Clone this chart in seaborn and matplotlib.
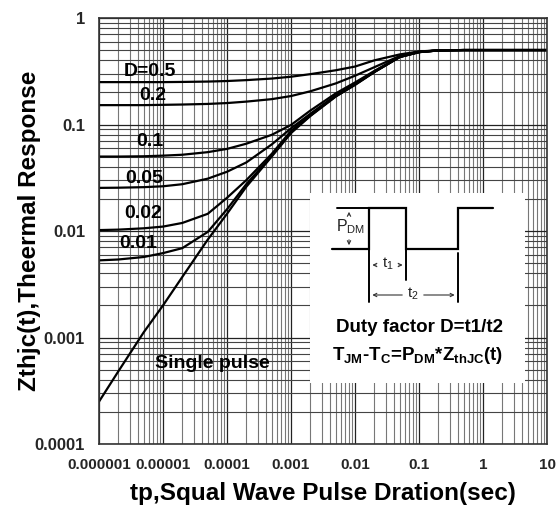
import numpy as np
import pandas as pd
import matplotlib
matplotlib.use("Agg")
import matplotlib.pyplot as plt
import matplotlib.ticker as mticker
import seaborn as sns

# ---------------- data ----------------
t = [1e-6, 2e-6, 5e-6, 1e-5, 2e-5, 5e-5, 1e-4, 2e-4, 5e-4, 1e-3,
     2e-3, 5e-3, 1e-2, 2e-2, 5e-2, 0.1, 0.2, 0.5, 1, 10]
z_d05 = [0.25, 0.25, 0.25, 0.25, 0.251, 0.253, 0.256, 0.261, 0.27, 0.281,
         0.297, 0.323, 0.35, 0.40, 0.455, 0.485, 0.497, 0.5, 0.5, 0.5]
z_d02 = [0.152, 0.152, 0.152, 0.153, 0.154, 0.156, 0.159, 0.164, 0.173, 0.185,
         0.205, 0.243, 0.287, 0.345, 0.44, 0.482, 0.497, 0.5, 0.5, 0.5]
z_d01 = [0.050, 0.050, 0.0503, 0.051, 0.052, 0.055, 0.059, 0.066, 0.08, 0.099,
         0.135, 0.196, 0.248, 0.318, 0.434, 0.48, 0.496, 0.5, 0.5, 0.5]
z_d005 = [0.0254, 0.0255, 0.0258, 0.0263, 0.0275, 0.031, 0.036, 0.044, 0.065, 0.092,
          0.126, 0.188, 0.242, 0.314, 0.432, 0.479, 0.496, 0.5, 0.5, 0.5]
z_d002 = [0.0102, 0.0103, 0.0106, 0.011, 0.0119, 0.0145, 0.0205, 0.030, 0.053, 0.087,
          0.122, 0.185, 0.238, 0.312, 0.431, 0.478, 0.496, 0.5, 0.5, 0.5]
z_d001 = [0.0053, 0.0054, 0.0057, 0.0062, 0.0069, 0.0098, 0.016, 0.0275, 0.051, 0.085,
          0.121, 0.184, 0.237, 0.311, 0.43, 0.478, 0.496, 0.5, 0.5, 0.5]
z_single = [0.00025, 0.00048, 0.00112, 0.002, 0.0037, 0.0083, 0.0145, 0.026, 0.05, 0.083,
            0.12, 0.183, 0.235, 0.31, 0.43, 0.478, 0.496, 0.5, 0.5, 0.5]

series_names = ["D=0.5", "0.2", "0.1", "0.05", "0.02", "0.01", "Single pulse"]
series_values = [z_d05, z_d02, z_d01, z_d005, z_d002, z_d001, z_single]

x_ticks = [1e-6, 1e-5, 1e-4, 1e-3, 1e-2, 1e-1, 1, 10]
x_tick_labels = ["0.000001", "0.00001", "0.0001", "0.001", "0.01", "0.1", "1", "10"]
y_ticks = [1e-4, 1e-3, 1e-2, 1e-1, 1]
y_tick_labels = ["0.0001", "0.001", "0.01", "0.1", "1"]

df = pd.concat([pd.DataFrame({"t": t, "Z": v, "series": n})
                for n, v in zip(series_names, series_values)], ignore_index=True)

# ---------------- style ----------------
sns.set_theme(style="white")
plt.rcParams["font.family"] = ["Liberation Sans", "DejaVu Sans"]
plt.rcParams["mathtext.fontset"] = "custom"
plt.rcParams["mathtext.rm"] = "Liberation Sans"
plt.rcParams["mathtext.it"] = "Liberation Sans"
plt.rcParams["mathtext.bf"] = "Liberation Sans:bold"

fig = plt.figure(figsize=(5.6, 5.11), dpi=100)
ax = fig.add_axes([99/560, 1-444/511, 448/560, 426/511])

ax.set_xscale("log")
ax.set_yscale("log")
ax.set_xlim(1e-6, 10)
ax.set_ylim(1e-4, 1)

sns.lineplot(data=df, x="t", y="Z", units="series", estimator=None, sort=False,
             color="black", lw=1.6, ax=ax, legend=False)

ax.xaxis.set_major_locator(mticker.FixedLocator(x_ticks))
ax.xaxis.set_major_formatter(mticker.FixedFormatter(x_tick_labels))
ax.yaxis.set_major_locator(mticker.FixedLocator(y_ticks))
ax.yaxis.set_major_formatter(mticker.FixedFormatter(y_tick_labels))
ax.xaxis.set_minor_locator(mticker.LogLocator(base=10, subs=np.arange(2, 10), numticks=20))
ax.yaxis.set_minor_locator(mticker.LogLocator(base=10, subs=np.arange(2, 10), numticks=20))
ax.xaxis.set_minor_formatter(mticker.NullFormatter())
ax.yaxis.set_minor_formatter(mticker.NullFormatter())

ax.tick_params(axis="both", which="both", length=0)
ax.tick_params(axis="x", which="major", labelsize=11, pad=10)
ax.tick_params(axis="y", which="major", labelsize=12, pad=10)
for lab in ax.get_xticklabels() + ax.get_yticklabels():
    lab.set_fontweight("bold")

ax.grid(True, which="major", color="#222222", lw=0.9)
ax.grid(True, which="minor", axis="y", color="#444444", lw=0.8)
ax.grid(True, which="minor", axis="x", color="#777777", lw=0.8)
ax.set_axisbelow(True)
for s in ax.spines.values():
    s.set_color("#333333")
    s.set_linewidth(1.2)

ax.set_xlabel("tp,Squal Wave Pulse Dration(sec)", fontsize=17.5, fontweight="bold", color="black")
ax.set_ylabel("Zthjc(t),Theermal Response", fontsize=17.5, fontweight="bold", color="black")
ax.xaxis.set_label_coords(0.5, -0.09)
ax.yaxis.set_label_coords(-0.13, 0.5)

# curve labels (axes fraction positions)
def pf(px, py):
    return ((px - 99) / 448, (444 - py) / 426)

label_pos = [(150, 71), (153, 95), (150, 141), (144, 178), (143, 213), (138, 243), (212, 364)]
for name, (px, py) in zip(series_names, label_pos):
    fx, fy = pf(px, py)
    ax.text(fx, fy, name, transform=ax.transAxes, ha="center", va="center",
            fontsize=14, fontweight="bold", color="black")

# ---------------- inset (pulse diagram) ----------------
bx0, by1 = pf(310, 193)
bx1, by0 = pf(525, 383)
ins = ax.inset_axes([bx0, by0, bx1 - bx0, by1 - by0])
ins.set_xlim(310, 525)
ins.set_ylim(383, 193)
ins.set_facecolor("white")
ins.set_xticks([])
ins.set_yticks([])
for s in ins.spines.values():
    s.set_visible(False)

lo, hi = 249, 208
ins.plot([332, 369, 369, 406, 406, 458, 458, 493], [lo, lo, hi, hi, lo, lo, hi, hi],
         color="black", lw=1.6, solid_joinstyle="miter")
ins.plot([337, 369], [hi, hi], color="black", lw=1.4)
# P_DM dimension arrow
arr = dict(arrowstyle="->", color="#333333", lw=0.8, mutation_scale=6)
ins.annotate("", xy=(349, hi + 1), xytext=(349, 218), arrowprops=arr)
ins.annotate("", xy=(349, lo - 1), xytext=(349, 237), arrowprops=arr)
ins.text(351, 227, "P$_{\\mathrm{DM}}$", ha="center", va="center", fontsize=11.5, color="#222222")
# extension lines
ins.plot([369, 369], [lo, 302], color="black", lw=1.4)
ins.plot([406, 406], [lo, 280], color="black", lw=1.4)
ins.plot([458, 458], [253, 302], color="black", lw=1.4)
# t1 arrow
ins.annotate("", xy=(369.5, 265), xytext=(379, 265), arrowprops=arr)
ins.annotate("", xy=(405.5, 265), xytext=(396, 265), arrowprops=arr)
ins.text(387.5, 264, "t$_1$", ha="center", va="center", fontsize=11, color="#222222")
# t2 arrow
ins.annotate("", xy=(369.5, 295), xytext=(405, 295), arrowprops=arr)
ins.annotate("", xy=(457.5, 295), xytext=(421, 295), arrowprops=arr)
ins.text(413, 294, "t$_2$", ha="center", va="center", fontsize=11, color="#222222")

ins.text(420, 327, "Duty factor D=t1/t2", ha="center", va="center",
         fontsize=13.5, fontweight="bold", color="black")
ins.text(418, 355, r"T$_{\mathbf{JM}}$-T$_{\mathbf{C}}$=P$_{\mathbf{DM}}$*Z$_{\mathbf{thJC}}$(t)",
         ha="center", va="center", fontsize=13.5, fontweight="bold", color="black")

fig.savefig("out.png", dpi=100)
